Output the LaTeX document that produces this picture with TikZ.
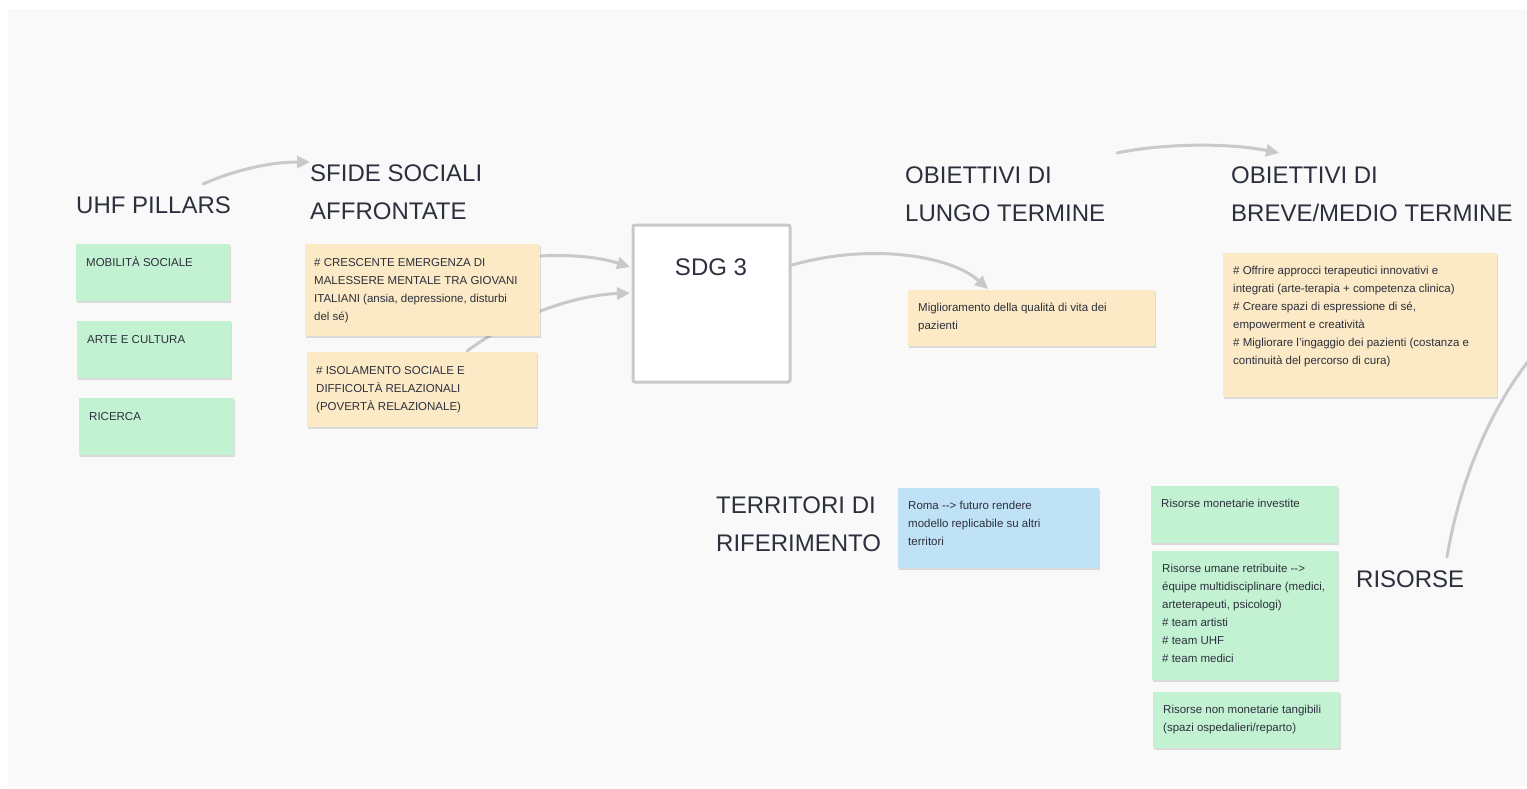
\documentclass[tikz,border=0pt]{standalone}
\usepackage{fontspec}
\setmainfont{Liberation Sans}
\usetikzlibrary{arrows.meta,shadows}
\definecolor{panel}{HTML}{F9F9F9}
\definecolor{pgreen}{HTML}{C3F2D3}
\definecolor{porange}{HTML}{FCE9C6}
\definecolor{pblue}{HTML}{C0E2F6}
\definecolor{lgray}{HTML}{C9C9C9}
\definecolor{ink}{HTML}{2C303C}
\pgfdeclarelayer{bg}
\pgfsetlayers{bg,main}
\tikzset{
  note/.style={draw=none, inner sep=0pt, outer sep=0pt, anchor=north west,
    drop shadow={shadow xshift=0.8pt, shadow yshift=-1.5pt, opacity=0.12, fill=black}},
  ntext/.style={anchor=base west, align=left, inner sep=0pt, text=ink,
    font=\fontsize{11.5}{18}\selectfont},
  head/.style={anchor=base west, align=left, inner sep=0pt, text=ink,
    font=\fontsize{24}{38}\selectfont},
  sdgbox/.style={draw=lgray, line width=3pt, fill=white, rounded corners=2pt,
    inner sep=0pt, outer sep=0pt, anchor=north west},
  conn/.style={draw=lgray, line width=3pt, line cap=round,
    -{Triangle[length=13pt,width=12pt]}},
  connplain/.style={draw=lgray, line width=3pt, line cap=round}
}
\begin{document}
\begin{tikzpicture}[x=1pt,y=-1pt]
\useasboundingbox (0,0) rectangle (1527,789);
\begin{pgfonlayer}{bg}
  \fill[white] (0,0) rectangle (1527,789);
  \fill[panel] (8,9) rectangle (1527,786);
\end{pgfonlayer}

% headings (base anchor = baseline of last line)
\node[head] (uhf) at (76,214) {UHF PILLARS};
\node[head] (sfide) at (310,219) {SFIDE SOCIALI\\AFFRONTATE};
\node[head] (lungo) at (905,222) {OBIETTIVI DI\\LUNGO TERMINE};
\node[head] (breve) at (1231,222) {OBIETTIVI DI\\BREVE/MEDIO TERMINE};
\node[head] (terr) at (716,551) {TERRITORI DI\\RIFERIMENTO};
\node[head] (ris) at (1356,587) {RISORSE};

% SDG box
\node[sdgbox, minimum width=157pt, minimum height=157pt] (sdg) at (633,225) {};
\node[head, anchor=base] (sdgt) at (711,275) {SDG 3};

% pillars
\node[note, fill=pgreen, minimum width=154pt, minimum height=57pt] (mob) at (76,244) {};
\node[ntext] (mobt) at ([shift={(10,22)}]mob.north west) {MOBILITÀ SOCIALE};
\node[note, fill=pgreen, minimum width=154pt, minimum height=57pt] (arte) at (77,321) {};
\node[ntext] (artet) at ([shift={(10,22)}]arte.north west) {ARTE E CULTURA};
\node[note, fill=pgreen, minimum width=155pt, minimum height=57pt] (ric) at (79,398) {};
\node[ntext] (rict) at ([shift={(10,22)}]ric.north west) {RICERCA};

% sfide
\node[note, fill=porange, minimum width=235pt, minimum height=92pt] (cres) at (305,244) {};
\node[ntext] (crest) at ([shift={(9,76)}]cres.north west)
  {\# CRESCENTE EMERGENZA DI\\MALESSERE MENTALE TRA GIOVANI\\ITALIANI (ansia, depressione, disturbi\\del sé)};
\node[note, fill=porange, minimum width=230pt, minimum height=75pt] (isol) at (307,352) {};
\node[ntext] (isolt) at ([shift={(9,58)}]isol.north west)
  {\# ISOLAMENTO SOCIALE E\\DIFFICOLTÀ RELAZIONALI\\(POVERTÀ RELAZIONALE)};

% obiettivi
\node[note, fill=porange, minimum width=247pt, minimum height=56pt] (migl) at (908,290) {};
\node[ntext] (miglt) at ([shift={(10,39)}]migl.north west)
  {Miglioramento della qualità di vita dei\\pazienti};
\node[note, fill=porange, minimum width=274pt, minimum height=144pt] (offr) at (1223,253) {};
\node[ntext] (offrt) at ([shift={(10,111)}]offr.north west)
  {\# Offrire approcci terapeutici innovativi e\\integrati (arte-terapia + competenza clinica)\\\# Creare spazi di espressione di sé,\\empowerment e creatività\\\# Migliorare l'ingaggio dei pazienti (costanza e\\continuità del percorso di cura)};

% territori
\node[note, fill=pblue, minimum width=201pt, minimum height=80pt] (roma) at (898,488) {};
\node[ntext] (romat) at ([shift={(10,57)}]roma.north west)
  {Roma {-}{-}> futuro rendere\\modello replicabile su altri\\territori};

% risorse
\node[note, fill=pgreen, minimum width=187pt, minimum height=57pt] (rmon) at (1151,486) {};
\node[ntext] (rmont) at ([shift={(10,21)}]rmon.north west) {Risorse monetarie investite};
\node[note, fill=pgreen, minimum width=186pt, minimum height=129pt] (rum) at (1152,551) {};
\node[ntext] (rumt) at ([shift={(10,111)}]rum.north west)
  {Risorse umane retribuite {-}{-}>\\équipe multidisciplinare (medici,\\arteterapeuti, psicologi)\\\# team artisti\\\# team UHF\\\# team medici};
\node[note, fill=pgreen, minimum width=187pt, minimum height=56pt] (rnon) at (1153,692) {};
\node[ntext] (rnont) at ([shift={(10,39)}]rnon.north west)
  {Risorse non monetarie tangibili\\(spazi ospedalieri/reparto)};

% free connector ends near headings
\coordinate (a1s) at (203,184);
\coordinate (a1e) at (310,162);
\coordinate (a6s) at (1117,153);
\coordinate (a6e) at (1279,153);
\coordinate (a7s) at (1447,557);
\coordinate (a7e) at (1530,359);

\begin{pgfonlayer}{bg}
  \draw[conn] (a1s) .. controls (235,170) and (270,162) .. (a1e);
  \draw[conn] ([shift={(1,12)}]cres.north east) .. controls (580,254) and (605,259) .. ([shift={(-3,42)}]sdg.north west);
  \draw[conn] ([shift={(160,-1)}]isol.north west) .. controls (520,312) and (580,295) .. ([shift={(-3,68)}]sdg.north west);
  \draw[conn] ([shift={(2,40)}]sdg.north east) .. controls (870,243) and (950,255) .. ([shift={(80,-1)}]migl.north west);
  \draw[conn] (a6s) .. controls (1165,143) and (1230,143) .. (a6e);
  \draw[connplain] (a7s) .. controls (1460,480) and (1490,410) .. (a7e);
\end{pgfonlayer}
\end{tikzpicture}
\end{document}
